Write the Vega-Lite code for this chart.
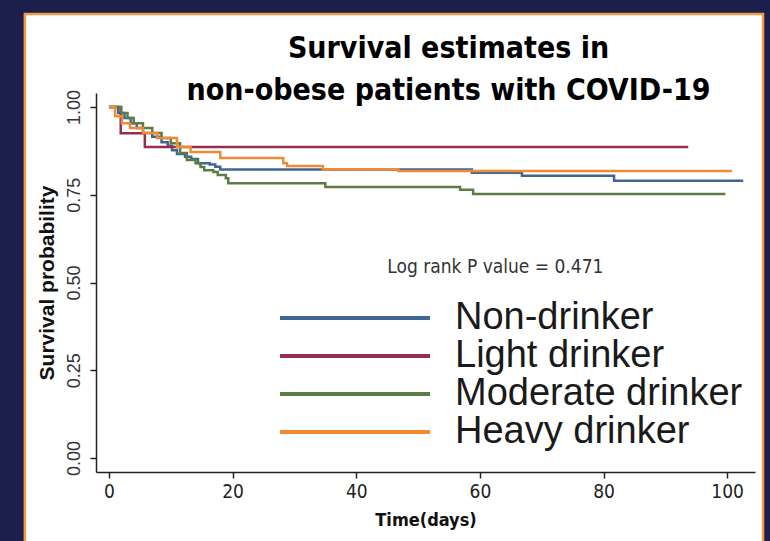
{
  "$schema": "https://vega.github.io/schema/vega-lite/v6.json",
  "width": 659,
  "height": 379,
  "autosize": {"type": "none"},
  "padding": {"left": 96, "top": 93, "right": 15, "bottom": 69},
  "background": "#ffffff",
  "title": {
    "text": ["Survival estimates in", "non-obese patients with COVID-19"],
    "font": "Liberation Sans Narrow, DejaVu Sans Condensed, sans-serif",
    "fontSize": 30,
    "fontWeight": "bold",
    "color": "#000000",
    "anchor": "middle",
    "dx": 23,
    "offset": -143,
    "lineHeight": 42
  },
  "config": {
    "view": {"stroke": null},
    "axis": {"grid": false, "zindex": 1}
  },
  "datasets": {
    "km": [
      {"series": "Non-drinker", "time": 0, "surv": 1.0},
      {"series": "Non-drinker", "time": 1.5, "surv": 0.983},
      {"series": "Non-drinker", "time": 2.5, "surv": 0.969},
      {"series": "Non-drinker", "time": 3.5, "surv": 0.954},
      {"series": "Non-drinker", "time": 4.5, "surv": 0.94},
      {"series": "Non-drinker", "time": 5.5, "surv": 0.926},
      {"series": "Non-drinker", "time": 7, "surv": 0.915},
      {"series": "Non-drinker", "time": 8.5, "surv": 0.9},
      {"series": "Non-drinker", "time": 9.5, "surv": 0.89},
      {"series": "Non-drinker", "time": 10.2, "surv": 0.877},
      {"series": "Non-drinker", "time": 11, "surv": 0.866},
      {"series": "Non-drinker", "time": 12.3, "surv": 0.858},
      {"series": "Non-drinker", "time": 13.3, "surv": 0.852},
      {"series": "Non-drinker", "time": 14.4, "surv": 0.84},
      {"series": "Non-drinker", "time": 16.3, "surv": 0.836},
      {"series": "Non-drinker", "time": 17.2, "surv": 0.83},
      {"series": "Non-drinker", "time": 18, "surv": 0.822},
      {"series": "Non-drinker", "time": 58.7, "surv": 0.813},
      {"series": "Non-drinker", "time": 66.8, "surv": 0.804},
      {"series": "Non-drinker", "time": 81.7, "surv": 0.79},
      {"series": "Non-drinker", "time": 102.6, "surv": 0.79},
      {"series": "Light drinker", "time": 0, "surv": 1.0},
      {"series": "Light drinker", "time": 1.9, "surv": 0.925},
      {"series": "Light drinker", "time": 5.8, "surv": 0.886},
      {"series": "Light drinker", "time": 93.7, "surv": 0.886},
      {"series": "Moderate drinker", "time": 0, "surv": 1.0},
      {"series": "Moderate drinker", "time": 2, "surv": 0.983},
      {"series": "Moderate drinker", "time": 3, "surv": 0.969},
      {"series": "Moderate drinker", "time": 4, "surv": 0.954},
      {"series": "Moderate drinker", "time": 5.5, "surv": 0.94},
      {"series": "Moderate drinker", "time": 7, "surv": 0.926},
      {"series": "Moderate drinker", "time": 8.5, "surv": 0.912},
      {"series": "Moderate drinker", "time": 10, "surv": 0.897},
      {"series": "Moderate drinker", "time": 11.5, "surv": 0.869},
      {"series": "Moderate drinker", "time": 12.6, "surv": 0.849},
      {"series": "Moderate drinker", "time": 14, "surv": 0.84},
      {"series": "Moderate drinker", "time": 14.8, "surv": 0.829},
      {"series": "Moderate drinker", "time": 15.4, "surv": 0.82},
      {"series": "Moderate drinker", "time": 16.9, "surv": 0.815},
      {"series": "Moderate drinker", "time": 17.6, "surv": 0.806},
      {"series": "Moderate drinker", "time": 18.9, "surv": 0.797},
      {"series": "Moderate drinker", "time": 19.3, "surv": 0.783},
      {"series": "Moderate drinker", "time": 35, "surv": 0.772},
      {"series": "Moderate drinker", "time": 56.8, "surv": 0.764},
      {"series": "Moderate drinker", "time": 58.9, "surv": 0.752},
      {"series": "Moderate drinker", "time": 99.7, "surv": 0.752},
      {"series": "Heavy drinker", "time": 0, "surv": 1.0},
      {"series": "Heavy drinker", "time": 1, "surv": 0.974},
      {"series": "Heavy drinker", "time": 2.1, "surv": 0.954},
      {"series": "Heavy drinker", "time": 3.4, "surv": 0.94},
      {"series": "Heavy drinker", "time": 5.5, "surv": 0.926},
      {"series": "Heavy drinker", "time": 7.8, "surv": 0.912},
      {"series": "Heavy drinker", "time": 11, "surv": 0.886},
      {"series": "Heavy drinker", "time": 13.2, "surv": 0.872},
      {"series": "Heavy drinker", "time": 18, "surv": 0.855},
      {"series": "Heavy drinker", "time": 28.2, "surv": 0.84},
      {"series": "Heavy drinker", "time": 28.8, "surv": 0.832},
      {"series": "Heavy drinker", "time": 34.6, "surv": 0.823},
      {"series": "Heavy drinker", "time": 46.8, "surv": 0.818},
      {"series": "Heavy drinker", "time": 100.8, "surv": 0.818}
    ],
    "note": [{"label": "Log rank P value = 0.471", "time": 62.5, "surv": 0.544}]
  },
  "layer": [
    {
      "data": {"values": [{"panel": "outer border"}]},
      "mark": {"type": "rect", "fillOpacity": 0, "stroke": "#1c1e4c", "strokeWidth": 50, "clip": false},
      "encoding": {
        "x": {"datum": -17.8, "type": "quantitative"},
        "x2": {"datum": 110.0},
        "y": {"datum": 1.339, "type": "quantitative"},
        "y2": {"datum": -0.46}
      }
    },
    {
      "data": {"values": [{"panel": "frame"}]},
      "mark": {"type": "rect", "fillOpacity": 0, "stroke": "#f29a45", "strokeWidth": 2.5, "clip": false},
      "encoding": {
        "x": {"datum": -13.6, "type": "quantitative"},
        "x2": {"datum": 105.8},
        "y": {"datum": 1.265, "type": "quantitative"},
        "y2": {"datum": -0.3}
      }
    },
    {
      "data": {"name": "km"},
      "mark": {"type": "line", "interpolate": "step-after", "strokeWidth": 2.5},
      "encoding": {
        "x": {
          "field": "time", "type": "quantitative",
          "scale": {"domain": [-2.1, 104.5], "nice": false, "zero": false},
          "axis": {
            "title": "Time(days)",
            "zindex": 1,
            "values": [0, 20, 40, 60, 80, 100],
            "domainColor": "#222222", "domainWidth": 1.5,
            "tickColor": "#222222", "tickWidth": 1.5, "tickSize": 6,
            "labelFont": "Liberation Sans Narrow, DejaVu Sans Condensed, sans-serif",
            "labelFontSize": 19, "labelColor": "#222222", "labelPadding": 4,
            "titleFont": "Liberation Sans Narrow, DejaVu Sans Condensed, sans-serif",
            "titleFontSize": 18, "titleFontWeight": "bold", "titleColor": "#111111",
            "titlePadding": 10
          }
        },
        "y": {
          "field": "surv", "type": "quantitative",
          "scale": {"domain": [-0.04, 1.04], "nice": false, "zero": false},
          "axis": {
            "title": "Survival probability",
            "zindex": 1,
            "values": [0, 0.25, 0.5, 0.75, 1],
            "format": ".2f",
            "domainColor": "#222222", "domainWidth": 1.5,
            "tickColor": "#222222", "tickWidth": 1.5, "tickSize": 6,
            "labelAngle": 270,
            "labelFont": "Liberation Sans, Arial, sans-serif",
            "labelFontSize": 18, "labelColor": "#333333", "labelPadding": 7,
            "titleFont": "Liberation Sans, Arial, sans-serif",
            "titleFontSize": 21, "titleFontWeight": "bold", "titleColor": "#111111",
            "titlePadding": 8
          }
        },
        "color": {
          "field": "series", "type": "nominal",
          "scale": {
            "domain": ["Non-drinker", "Light drinker", "Moderate drinker", "Heavy drinker"],
            "range": ["#3f6796", "#94304f", "#5d7c43", "#ef8b35"]
          },
          "legend": {
            "title": null,
            "orient": "none",
            "legendX": 182,
            "legendY": 207,
            "symbolType": "stroke",
            "symbolSize": 22500,
            "symbolStrokeWidth": 4,
            "clipHeight": 36,
            "labelFont": "Liberation Sans, Arial, sans-serif",
            "labelFontSize": 38,
            "labelColor": "#1a1a1a",
            "labelOffset": 23,
            "rowPadding": 0,
            "labelLimit": 400,
            "zindex": 1
          }
        }
      }
    },
    {
      "data": {"name": "note"},
      "mark": {"type": "text", "font": "Liberation Sans Narrow, DejaVu Sans Condensed, sans-serif", "fontSize": 19, "color": "#333333", "align": "center", "baseline": "middle"},
      "encoding": {
        "x": {"field": "time", "type": "quantitative"},
        "y": {"field": "surv", "type": "quantitative"},
        "text": {"field": "label"}
      }
    }
  ]
}
